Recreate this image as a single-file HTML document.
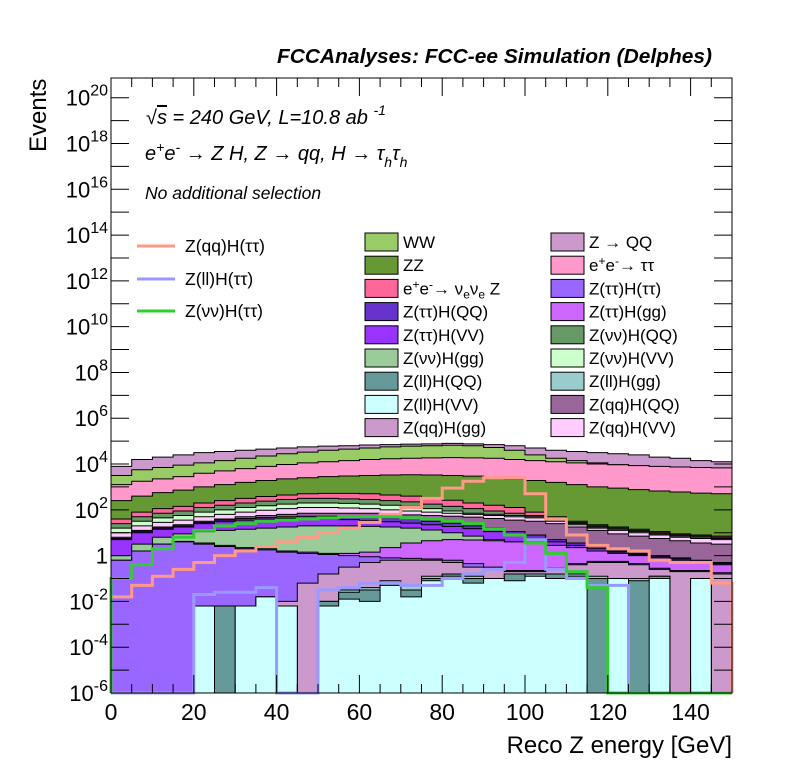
<!DOCTYPE html>
<html><head><meta charset="utf-8"><style>
body{margin:0;background:#fff}
svg{display:block;font-family:"Liberation Sans",sans-serif}
</style></head><body>
<svg id="c" width="796" height="772" xmlns="http://www.w3.org/2000/svg">
<text x="712" y="63" text-anchor="end" font-size="20" font-weight="bold" font-style="italic" textLength="435" lengthAdjust="spacingAndGlyphs">FCCAnalyses: FCC-ee Simulation (Delphes)</text>
<g id="plot"></g>
<g id="axes"></g>
<g font-style="italic" font-size="20">
<text x="146" y="124">√<tspan text-decoration="overline">s</tspan> = 240 GeV, L=10.8 ab <tspan dy="-9" font-size="14">-1</tspan></text>
<text x="145" y="160">e<tspan dy="-8" font-size="14">+</tspan><tspan dy="8">e</tspan><tspan dy="-8" font-size="14">-</tspan><tspan dy="8"> → Z H, Z  → qq, H  → τ</tspan><tspan dy="7" font-size="14">h</tspan><tspan dy="-7">τ</tspan><tspan dy="7" font-size="14">h</tspan></text>
<text x="145" y="199" font-size="17.5">No additional selection</text>
</g>
<g id="legend"></g>
<text x="732" y="753" text-anchor="end" font-size="24">Reco Z energy [GeV]</text>
<text transform="translate(46,152) rotate(-90)" font-size="24">Events</text>
</svg>
<script>
const n=null;
const binEdgesGeV=[0,5,10,15,20,25,30,35,40,45,50,55,60,65,70,75,80,85,90,95,100,105,110,115,120,125,130,135,140,145,150];
const stackNames=["Z → QQ","WW","e+e- → ττ","ZZ","e+e- → νeνe Z","Z(νν)H(QQ)","Z(νν)H(VV)","Z(qq)H(VV)","Z(qq)H(QQ)","Z(ττ)H(QQ)","Z(ττ)H(VV)","Z(νν)H(gg)","Z(ττ)H(gg)","Z(ττ)H(ττ)","Z(qq)H(gg)","Z(ll)H(gg)","Z(ll)H(QQ)","Z(ll)H(VV)"];
const stackColors=["#cc99cc","#99cc66","#ff99cc","#669933","#ff6699","#669966","#ccffcc","#ffccff","#996699","#6633cc","#9933ff","#99cc99","#cc66ff","#9966ff","#cc99cc","#99cccc","#669999","#ccffff"];
const sZQQ=[3.9,4.2,4.3,4.4,4.5,4.55,4.6,4.65,4.7,4.75,4.78,4.8,4.83,4.85,4.87,4.88,4.9,4.88,4.85,4.8,4.7,4.6,4.55,4.5,4.45,4.4,4.3,4.25,4.15,4.1];
const sWW=[3.5,3.75,3.85,3.95,4.05,4.15,4.25,4.35,4.45,4.52,4.6,4.65,4.7,4.75,4.78,4.8,4.82,4.8,4.72,4.6,4.4,4.25,4.15,4.05,3.97,3.92,3.87,3.85,3.8,3.78];
const sEETT=[3.1,3.25,3.35,3.45,3.6,3.7,3.8,3.9,3.98,4.05,4.1,4.15,4.2,4.23,4.25,4.27,4.28,4.27,4.25,4.2,4.15,4.1,4.05,4.0,3.97,3.93,3.9,3.87,3.85,3.83];
const sZZ=[2.4,2.6,2.75,2.86,3.0,3.1,3.2,3.28,3.35,3.4,3.45,3.48,3.5,3.52,3.53,3.52,3.5,3.47,3.42,3.35,3.28,3.2,3.1,3.0,2.95,2.88,2.82,2.78,2.73,2.7];
const sNNZ=[1.6,1.9,2.05,2.15,2.3,2.4,2.5,2.58,2.65,2.7,2.72,2.72,2.7,2.65,2.6,2.5,2.42,2.3,2.2,2.1,1.9,1.7,1.5,1.35,1.25,1.15,1.05,0.95,0.9,0.85];
const sNNHQQ=[1.4,1.7,1.85,1.95,2.1,2.2,2.3,2.38,2.45,2.5,2.5,2.48,2.45,2.4,2.35,2.25,2.15,2.05,1.95,1.85,1.75,1.6,1.45,1.3,1.2,1.1,1.0,0.9,0.85,0.8];
const sNNHVV=[1.2,1.5,1.65,1.75,1.9,2.0,2.1,2.18,2.25,2.3,2.3,2.28,2.25,2.2,2.15,2.05,1.95,1.85,1.8,1.75,1.7,1.55,1.4,1.25,1.15,1.05,0.95,0.85,0.8,0.75];
const sQQHVV=[1.0,1.3,1.45,1.55,1.7,1.8,1.9,1.98,2.05,2.1,2.1,2.08,2.05,2.0,1.95,1.9,1.85,1.8,1.75,1.7,1.65,1.5,1.35,1.2,1.1,1.0,0.9,0.8,0.75,0.7];
const sQQHQQ=[0.8,1.1,1.25,1.35,1.5,1.6,1.7,1.75,1.8,1.85,1.85,1.85,1.85,1.8,1.78,1.75,1.72,1.68,1.62,1.55,1.5,1.4,1.25,1.1,0.95,0.85,0.75,0.65,0.55,0.5];
const sTTHQQ=[0.75,1.05,1.2,1.3,1.45,1.55,1.62,1.67,1.7,1.72,1.72,1.72,1.7,1.65,1.6,1.5,1.42,1.3,1.2,1.05,0.9,0.7,0.55,0.4,0.2,0.1,0.0,-0.1,-0.2,-0.3];
const sTTHVV=[0.7,1.0,1.15,1.25,1.4,1.48,1.55,1.6,1.62,1.62,1.6,1.57,1.53,1.48,1.42,1.35,1.27,1.18,1.05,0.9,0.75,0.6,0.45,0.3,0.15,0.05,-0.05,-0.15,-0.25,-0.35];
const sNNHGG=[0.0,0.5,0.8,0.95,1.05,1.1,1.15,1.2,1.25,1.3,1.3,1.3,1.28,1.25,1.2,1.12,1.0,0.85,0.7,0.5,0.3,0.1,-0.1,-0.3,-0.5,-0.7,-0.9,-1.1,-1.3,-1.5];
const sTTHGG=[-0.2,0.2,0.5,0.62,0.55,0.45,0.35,0.3,0.2,0.15,0.1,0.1,0.15,0.35,0.55,0.65,0.7,0.68,0.65,0.6,0.55,0.45,0.35,0.2,0.1,0.0,-0.1,-0.2,-0.3,-0.4];
const sTTHTT=[-0.2,0.2,0.5,0.6,0.5,0.4,0.3,0.25,0.15,0.1,0.05,0.0,-0.05,-0.1,-0.12,-0.15,-0.2,-0.35,-0.5,-0.65,-0.65,-0.55,-0.35,-0.25,-0.25,-0.35,-0.55,-0.65,-0.65,-0.75];
const sQQHGG=[n,n,n,n,n,n,n,n,-2.0,-1.2,-0.8,-0.5,-0.3,-0.2,-0.2,-0.2,-0.3,-0.5,-0.6,-0.7,-0.7,-0.6,-0.4,-0.3,-0.3,-0.4,-0.6,-0.7,-0.7,-0.8];
const sLLHGG=[n,n,n,n,-2.2,-2.2,-2.2,-1.8,-2.2,n,-2.0,-1.5,-1.4,-1.1,-1.3,-0.9,-0.8,-0.9,-1.0,-0.8,-0.8,-0.8,-0.8,-0.9,-1.0,-1.0,-0.9,n,-1.0,n];
const sLLHQQ=[n,n,n,n,n,-2.2,n,-1.8,n,n,-2.0,-1.6,-1.5,-1.2,-1.5,-1.0,-0.8,-1.0,-1.0,-0.8,-0.9,-0.8,-0.9,-1.0,-1.0,-1.1,-0.9,n,-1.0,n];
const sLLHVV=[n,n,n,n,-2.2,n,-2.2,-1.8,-2.2,n,-2.2,-1.9,-2.0,-1.3,-1.8,-1.1,-0.9,-1.2,-1.0,-1.1,-0.9,-1.0,-0.9,n,-1.0,n,-1.0,n,-1.0,n];
const stackValues=[sZQQ,sWW,sEETT,sZZ,sNNZ,sNNHQQ,sNNHVV,sQQHVV,sQQHQQ,sTTHQQ,sTTHVV,sNNHGG,sTTHGG,sTTHTT,sQQHGG,sLLHGG,sLLHQQ,sLLHVV];
const lineQQTT=[-1.8,-1.3,-0.9,-0.6,-0.3,0.0,0.2,0.4,0.6,0.8,1.0,1.2,1.45,1.8,2.1,2.5,2.95,3.25,3.4,3.4,2.7,1.6,0.9,0.45,0.3,0.2,-0.2,-0.3,-0.3,-1.2];
const lineLLTT=[n,n,n,n,-1.7,-1.6,-1.6,-1.4,n,n,-1.5,-1.4,-1.2,-1.2,-1.3,-1.3,-1.0,-0.8,-0.6,-0.3,0.7,-0.6,-1.0,-1.3,-1.3,n,n,n,n,n];
const lineNNTT=[-1.0,-0.4,0.3,0.8,1.1,1.3,1.4,1.5,1.55,1.6,1.65,1.7,1.7,1.7,1.65,1.6,1.5,1.4,1.15,0.9,0.55,0.1,-0.7,-1.4,n,n,n,n,n,n];
const yTickExp=[-6,-4,-2,0,2,4,6,8,10,12,14,16,18,20];
const xTicks=[0,20,40,60,80,100,120,140];

const NS="http://www.w3.org/2000/svg";
const X0=111,X1=732,Y0=693,Y1=78;
const xS=v=>X0+(v-0)*(X1-X0)/150;
const yS=e=>{if(e===null)return Y0;const y=Y0-(e+6)*(Y0-Y1)/26.86;return Math.max(Y1,Math.min(Y0,y));};
function mk(tag,attrs,parent){const el=document.createElementNS(NS,tag);for(const k in attrs)el.setAttribute(k,attrs[k]);parent.appendChild(el);return el;}
const plot=document.getElementById('plot'),axes=document.getElementById('axes'),leg=document.getElementById('legend');
function stepPath(vals){let d="";vals.forEach((v,i)=>{const y=yS(v);const xa=xS(binEdgesGeV[i]),xb=xS(binEdgesGeV[i+1]);d+=(i===0?`M${xa},${Y0}L${xa},${y}`:`L${xa},${y}`)+`L${xb},${y}`;});return d;}
stackValues.forEach((vals,k)=>{
  const p=mk('path',{d:stepPath(vals)+`L${X1},${Y0}Z`,fill:stackColors[k],stroke:'#000','stroke-width':1},plot);
  
  
});
[[lineQQTT,'#ff9988','line-zqq-htautau'],[lineLLTT,'#9999ff','line-zll-htautau'],[lineNNTT,'#33cc33','line-znunu-htautau']].forEach(([vals,col,name])=>{
  const p=mk('path',{d:stepPath(vals)+`L${X1},${Y0}`,fill:'none',stroke:col,'stroke-width':3},plot);
  
  
});
const fr=mk('rect',{x:X0,y:Y1,width:X1-X0,height:Y0-Y1,fill:'none',stroke:'#000','stroke-width':1},axes);


for(let e=-6;e<=20;e++){const y=yS(e);mk('line',{x1:X0,x2:X0+18,y1:y,y2:y,stroke:'#000'},axes);mk('line',{x1:X1,x2:X1-18,y1:y,y2:y,stroke:'#000'},axes);}
yTickExp.forEach(e=>{const t=mk('text',{x:X0-3,y:yS(e)+8,'text-anchor':'end','font-size':22},axes);
  if(e===0)t.textContent='1';else t.innerHTML=`10<tspan dy="-10" font-size="16">${e}</tspan>`;
  
  });
for(let v=0;v<=150;v+=5){const L=v%20===0?18:9;const x=xS(v);mk('line',{x1:x,x2:x,y1:Y0,y2:Y0-L,stroke:'#000'},axes);mk('line',{x1:x,x2:x,y1:Y1,y2:Y1+L,stroke:'#000'},axes);}
xTicks.forEach(v=>{const t=mk('text',{x:xS(v),y:720,'text-anchor':'middle','font-size':23},axes);t.textContent=v;
  
  });
[['Z(qq)H(ττ)','#ff9988',246],['Z(ll)H(ττ)','#9999ff',279],['Z(νν)H(ττ)','#33cc33',311]].forEach(([lab,col,y])=>{
  const l=mk('line',{x1:137,x2:175,y1:y,y2:y,stroke:col,'stroke-width':3},leg);
  
  
  const t=mk('text',{x:185,y:y+6,'font-size':17.5},leg);t.textContent=lab;
  
  
});
const legOrder=["WW","Z → QQ","ZZ","e+e- → ττ","e+e- → νeνe Z","Z(ττ)H(ττ)","Z(ττ)H(QQ)","Z(ττ)H(gg)","Z(ττ)H(VV)","Z(νν)H(QQ)","Z(νν)H(gg)","Z(νν)H(VV)","Z(ll)H(QQ)","Z(ll)H(gg)","Z(ll)H(VV)","Z(qq)H(QQ)","Z(qq)H(gg)","Z(qq)H(VV)"];
const legHtml={"e+e- → ττ":'e<tspan dy="-6" font-size="12">+</tspan><tspan dy="6">e</tspan><tspan dy="-6" font-size="12">-</tspan><tspan dy="6">→ ττ</tspan>',
"e+e- → νeνe Z":'e<tspan dy="-6" font-size="12">+</tspan><tspan dy="6">e</tspan><tspan dy="-6" font-size="12">-</tspan><tspan dy="6">→ ν</tspan><tspan dy="4" font-size="12">e</tspan><tspan dy="-4">ν</tspan><tspan dy="4" font-size="12">e</tspan><tspan dy="-4"> Z</tspan>'};
legOrder.forEach((lab,i)=>{
  const col=i%2,row=Math.floor(i/2);const bx=col?551:365,y=242+row*23.2;
  const ci=stackNames.indexOf(lab);
  const r=mk('rect',{x:bx,y:y-9,width:33,height:18,fill:stackColors[ci],stroke:'#000'},leg);
  
  
  const t=mk('text',{x:bx+38,y:y+6,'font-size':17},leg);
  if(legHtml[lab])t.innerHTML=legHtml[lab];else t.textContent=lab;
  
  
});
</script>
</body></html>
